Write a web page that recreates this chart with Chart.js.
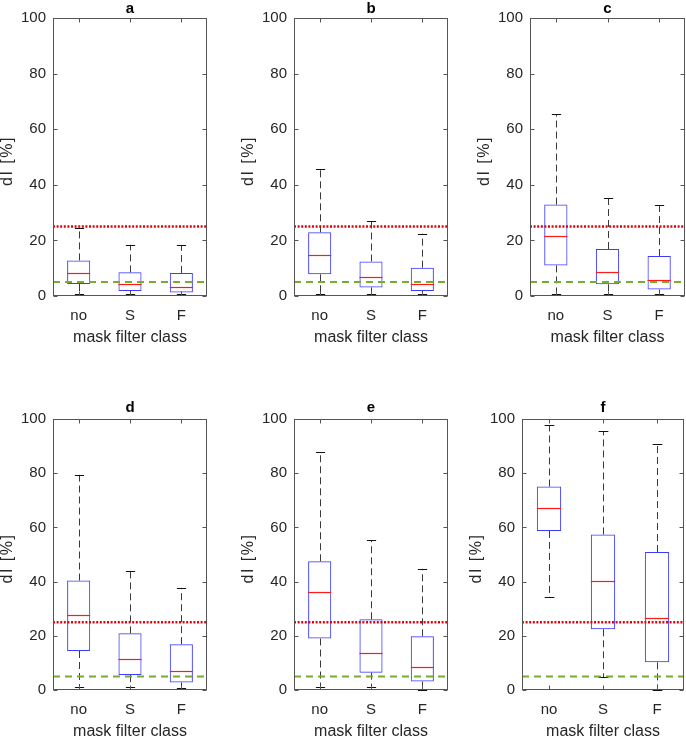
<!DOCTYPE html>
<html>
<head>
<meta charset="utf-8">
<script src="https://cdn.jsdelivr.net/npm/chart.js@4.4.1/dist/chart.umd.min.js"></script>
<style>
  html, body { margin: 0; padding: 0; background: #fff; overflow: hidden; }
  body { width: 686px; height: 736px; position: relative; }
  canvas { position: absolute; }
</style>
</head>
<body>
<script>
// ---- data ----
const categories = ['no', 'S', 'F'];
const panelTitles = ['a', 'b', 'c', 'd', 'e', 'f'];
const yTicks = [0, 20, 40, 60, 80, 100];
const refLines = [25, 5];   // red dotted, green dashed
const yLabel = 'dI [%]';
const xLabel = 'mask filter class';

// one row per panel, one value per category
const lowerWhisker = [
  [0.7, 0.7, 0.7],
  [0.7, 0.7, 0.7],
  [0.7, 0.7, 0.7],
  [1.0, 1.0, 0.6],
  [1.0, 1.0, 0.0],
  [34.2, 4.7, 0.0]
];
const q1 = [
  [4.3, 1.8, 1.3],
  [7.8, 3.1, 1.8],
  [11.0, 4.2, 2.3],
  [14.4, 5.5, 2.8],
  [19.0, 6.4, 3.1],
  [58.7, 22.4, 10.2]
];
const median = [
  [8.2, 4.3, 3.4],
  [14.6, 6.8, 4.4],
  [21.6, 8.6, 5.8],
  [27.8, 11.3, 7.0],
  [36.1, 13.5, 8.5],
  [67.1, 40.1, 26.4]
];
const q3 = [
  [12.8, 8.5, 8.3],
  [22.9, 12.4, 10.2],
  [32.9, 16.9, 14.4],
  [40.4, 20.9, 16.9],
  [47.5, 26.1, 19.8],
  [75.1, 57.4, 50.9]
];
const upperWhisker = [
  [24.6, 18.4, 18.2],
  [45.6, 26.8, 22.4],
  [65.3, 35.3, 32.8],
  [79.4, 44.0, 37.7],
  [87.7, 55.3, 44.7],
  [97.7, 95.4, 90.8]
];

// ---- layout (pixels) ----
const plotLeft = [53, 294, 530, 53, 294, 522];
const plotRight = [207, 448, 685, 207, 448, 684];
const canvasRight = [230, 460, 686, 230, 460, 686];
const rowTop = [0, 0, 0, 399, 399, 399];
const rowTitlePad = [0, 0, 0, 2, 2, 2];
const rowPlotH = [278, 278, 278, 271, 271, 271];

const FONT = "'Liberation Sans', Arial, Helvetica, sans-serif";
const TEXT = '#262626';
const Y_AXIS_W = 55;
const X_AXIS_H = 64;

function hline(ctx, x0, x1, yv) {
    ctx.beginPath();
    ctx.moveTo(x0, yv);
    ctx.lineTo(x1, yv);
    ctx.stroke();
}

function vline(ctx, xv, y0, y1) {
    ctx.beginPath();
    ctx.moveTo(xv, y0);
    ctx.lineTo(xv, y1);
    ctx.stroke();
}

const boxExtras = {
    id: 'boxExtras',
    afterDatasetsDraw(chart, args, opts) {
        const p = opts.panel;
        const {ctx, chartArea: area, scales: {x, y}} = chart;
        const meta = chart.getDatasetMeta(0);
        ctx.save();

        categories.forEach((c, i) => {
            const bar = meta.data[i];
            const cx = Math.round(x.getPixelForValue(i)) + 0.5;
            const half = bar.width / 2;
            const cap = bar.width * 0.2;

            // whiskers
            ctx.strokeStyle = '#3a3a3a';
            ctx.lineWidth = 1;
            ctx.setLineDash([7, 4]);
            vline(ctx, cx, y.getPixelForValue(q3[p][i]), y.getPixelForValue(upperWhisker[p][i]));
            vline(ctx, cx, y.getPixelForValue(q1[p][i]), y.getPixelForValue(lowerWhisker[p][i]));
            ctx.setLineDash([]);

            // caps
            ctx.strokeStyle = '#111';
            hline(ctx, cx - cap, cx + cap, Math.round(y.getPixelForValue(upperWhisker[p][i])) + 0.5);
            hline(ctx, cx - cap, cx + cap, Math.round(y.getPixelForValue(lowerWhisker[p][i])) + 0.5);

            // median
            ctx.strokeStyle = '#ff1a1a';
            ctx.lineWidth = 1.2;
            hline(ctx, bar.x - half, bar.x + half, Math.round(y.getPixelForValue(median[p][i])) + 0.5);
        });

        // reference lines
        ctx.lineWidth = 2.5;
        ctx.strokeStyle = '#e8000b';
        ctx.setLineDash([2, 1.6]);
        hline(ctx, area.left, area.right, y.getPixelForValue(refLines[0]));
        ctx.lineWidth = 2;
        ctx.strokeStyle = '#77ac30';
        ctx.setLineDash([7, 5]);
        hline(ctx, area.left, area.right, y.getPixelForValue(refLines[1]));
        ctx.restore();
    },
    afterDraw(chart) {
        const {ctx, chartArea: a, scales: {x, y}} = chart;
        ctx.save();
        ctx.strokeStyle = '#555';
        ctx.lineWidth = 1;
        const l = Math.round(a.left) + 0.5, r = Math.round(a.right) - 0.5;
        const t = Math.round(a.top) + 0.5, b = Math.round(a.bottom) - 0.5;
        ctx.strokeRect(l, t, r - l, b - t);
        // inward ticks, MATLAB style
        yTicks.forEach(v => {
            const py = Math.round(y.getPixelForValue(v)) + 0.5;
            hline(ctx, l, l + 4, py);
            hline(ctx, r - 4, r, py);
        });
        categories.forEach((c, i) => {
            const px = Math.round(x.getPixelForValue(i)) + 0.5;
            vline(ctx, px, b, b - 4);
            vline(ctx, px, t, t + 4);
        });

        // y axis label, drawn a little spaced out like the original
        ctx.translate(a.left - 45, (a.top + a.bottom) / 2 + 4);
        ctx.rotate(-Math.PI / 2);
        ctx.font = '16px ' + FONT;
        ctx.fillStyle = TEXT;
        ctx.textAlign = 'center';
        ctx.textBaseline = 'middle';
        if ('letterSpacing' in ctx) ctx.letterSpacing = '1.5px';
        ctx.fillText(yLabel, 0, 0);
        ctx.restore();
    }
};

panelTitles.forEach((name, p) => {
    const canvas = document.createElement('canvas');
    const left = plotLeft[p] - Y_AXIS_W;
    const cw = canvasRight[p] - left;
    const ch = 18 + rowTitlePad[p] + rowPlotH[p] + X_AXIS_H;
    canvas.width = cw;
    canvas.height = ch;
    canvas.style.left = left + 'px';
    canvas.style.top = rowTop[p] + 'px';
    canvas.style.width = cw + 'px';
    canvas.style.height = ch + 'px';
    document.body.appendChild(canvas);

    new Chart(canvas, {
        type: 'bar',
        data: {
            labels: categories,
            datasets: [{
                data: categories.map((c, i) => [q1[p][i], q3[p][i]]),
                backgroundColor: 'rgba(0,0,0,0)',
                borderColor: '#3c3cff',
                borderWidth: 1,
                borderSkipped: false,
                barPercentage: 0.45,
                categoryPercentage: 1
            }]
        },
        options: {
            responsive: false,
            animation: false,
            devicePixelRatio: 1,
            layout: {padding: {left: 0, top: 0, bottom: 0, right: canvasRight[p] - plotRight[p]}},
            plugins: {
                legend: {display: false},
                tooltip: {enabled: false},
                title: {
                    display: true,
                    fullSize: false,
                    text: name,
                    color: '#000',
                    font: {family: FONT, size: 15, weight: 'bold', lineHeight: 1.2},
                    padding: {top: 0, bottom: rowTitlePad[p]}
                },
                boxExtras: {panel: p}
            },
            scales: {
                x: {
                    offset: true,
                    grid: {display: false, drawTicks: false},
                    border: {display: false},
                    ticks: {color: TEXT, font: {family: FONT, size: 15}, padding: 11},
                    title: {display: true, text: xLabel, color: TEXT,
                            font: {family: FONT, size: 16, lineHeight: 1.2}, padding: {top: 0, bottom: 13}},
                    afterFit(s) { s.height = X_AXIS_H; }
                },
                y: {
                    min: 0,
                    max: 100,
                    afterBuildTicks(s) { s.ticks = yTicks.map(v => ({value: v})); },
                    grid: {display: false, drawTicks: false},
                    border: {display: false},
                    ticks: {color: TEXT, font: {family: FONT, size: 15}, padding: 7},
                    afterFit(s) { s.width = Y_AXIS_W; }
                }
            }
        },
        plugins: [boxExtras]
    });
});
</script>
</body>
</html>
